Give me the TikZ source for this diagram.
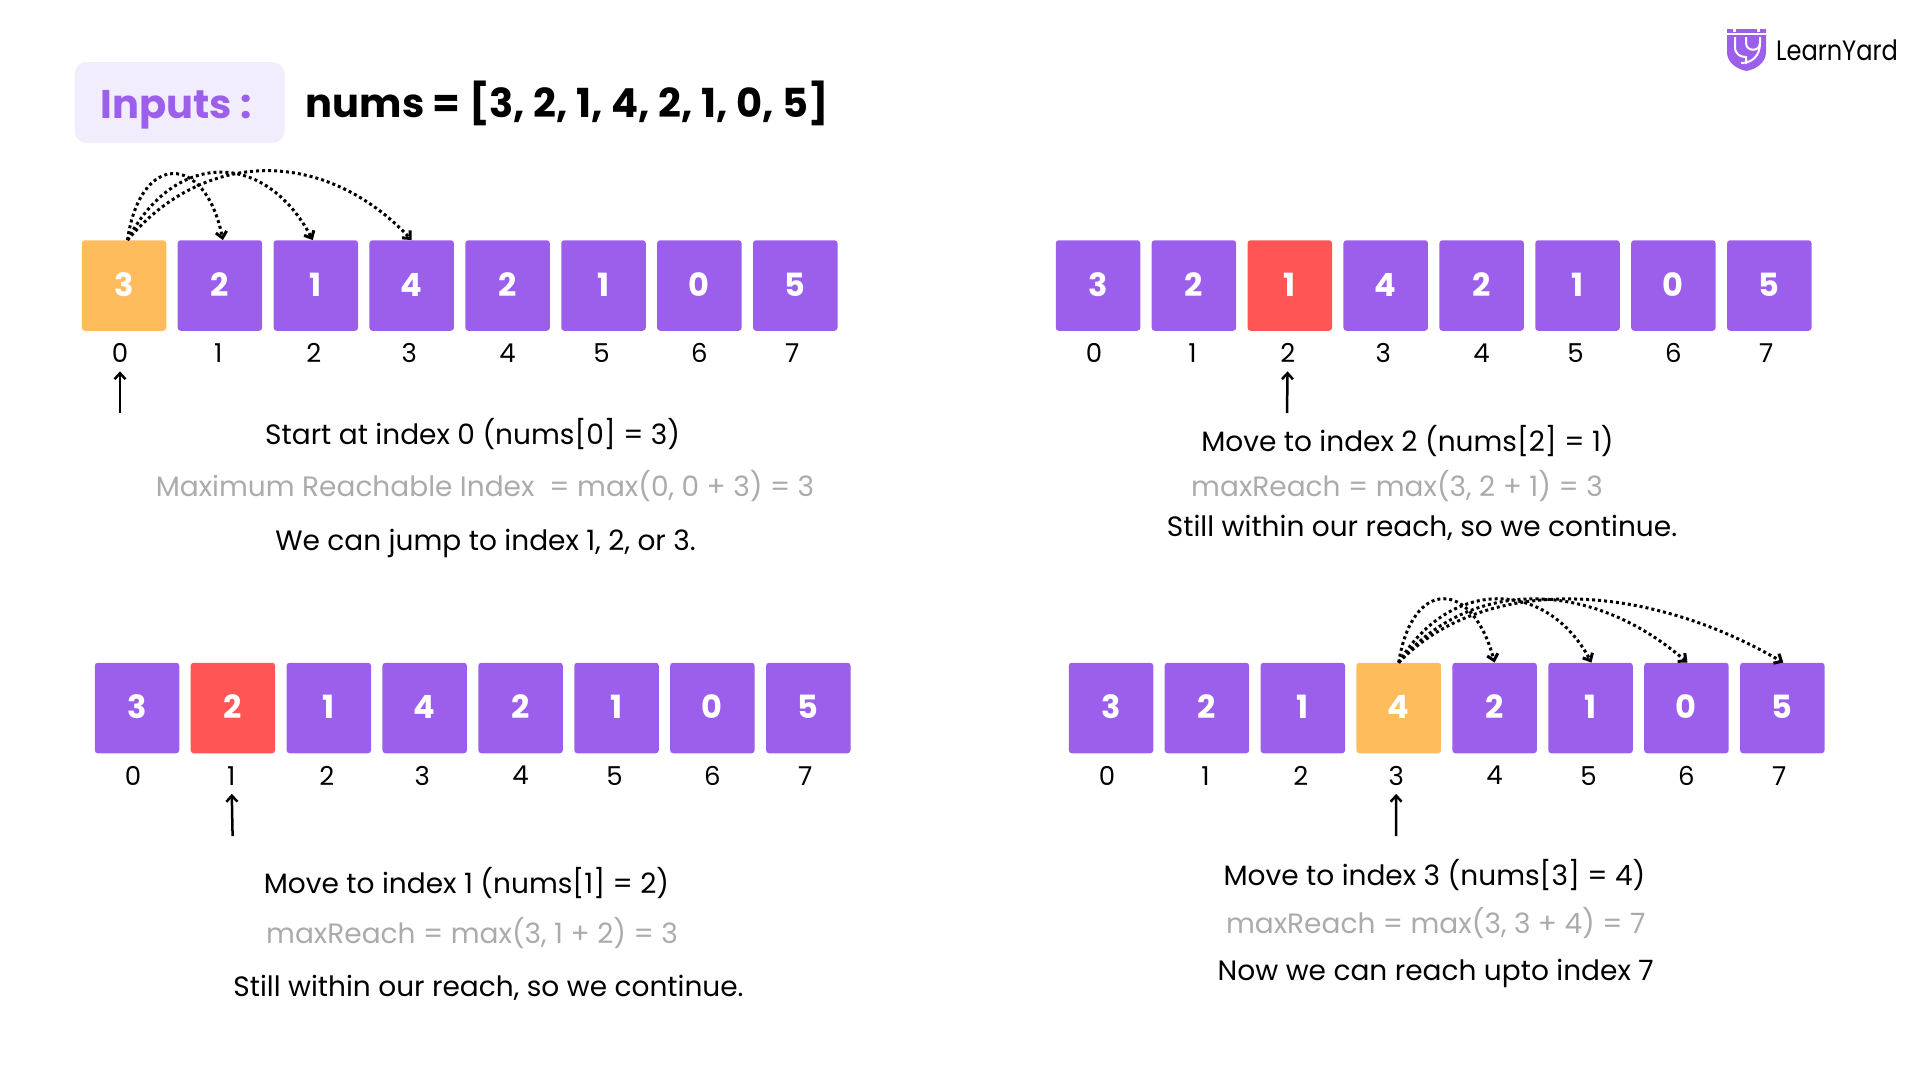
\documentclass[tikz,border=0pt]{standalone}
\usepackage{fontspec}
\setmainfont{Poppins}
\usetikzlibrary{arrows.meta, positioning}

\definecolor{purp}{HTML}{9B5FEB}
\definecolor{lilac}{HTML}{F2EDFC}
\definecolor{amber}{HTML}{FFBC5C}
\definecolor{coral}{HTML}{FF5555}
\definecolor{greytxt}{HTML}{ABABAB}

\tikzset{
  cell/.style={fill=purp, rounded corners=3pt, minimum width=84.5pt, minimum height=90.5pt, inner sep=0pt, text=white, text depth=2pt, font=\fontsize{32}{38}\selectfont\bfseries},
  idx/.style={inner sep=0pt, minimum height=30pt, font=\fontsize{26}{30}\selectfont},
  txt/.style={inner sep=0pt, text height=26pt, text depth=6pt, font=\fontsize{28}{32}\selectfont},
  pointer/.style={-{Straight Barb[length=6pt, width=11pt]}, line width=2.5pt, shorten >=3pt},
  jump/.style={-{Straight Barb[length=6pt, width=11pt]}, line width=3pt, dash pattern=on 3pt off 3pt}
}

\begin{document}
\begin{tikzpicture}[x=1pt, y=-1pt, node distance=11pt]
    \useasboundingbox (0,0) rectangle (1920,1080);

    % Header
    \node (inputs) [fill=lilac, rounded corners=12pt, minimum width=210pt, minimum height=81pt, inner sep=0pt, text=purp, text height=42pt, font=\fontsize{40}{48}\selectfont\bfseries] at (179.5,102.5) {\hspace*{-7pt}Inputs :};
    \node (nums) [inner sep=0pt, text depth=6pt, font=\fontsize{40}{50}\selectfont\bfseries, right=21pt of inputs] {nums = [3, 2, 1, 4, 2, 1, 0, 5]};

    % Logo
    \fill[purp] (1727,29) -- (1733,29) -- (1733,32) -- (1736,32) -- (1736,29) -- (1757,29) -- (1757,32) -- (1760,32) -- (1760,29) -- (1766,29) -- (1766,52) .. controls (1766,63) and (1756,69) .. (1746.5,71) .. controls (1737,69) and (1727,63) .. (1727,52) -- cycle;
    \draw[white, line width=1.5pt] (1727,34) -- (1766,34);
    \draw[white, line width=2pt] (1735,37) -- (1735,47) .. controls (1735,54) and (1740,57) .. (1746,57) -- (1746,64);
    \draw[white, line width=2pt] (1746,37) -- (1746,43) .. controls (1746,52) and (1760,52) .. (1760,43) -- (1760,37);
    \draw[white, line width=2pt] (1760,43) .. controls (1760,56) and (1752,63) .. (1741,63);
    \node (logo) [inner sep=0pt, anchor=base west, font=\fontsize{28}{32}\selectfont] at (1776,60) {\scalebox{.86}[1]{LearnYard}};

    % Draw the first row
    \node (a0) [cell, fill=amber] at (124,285.5) {3};
    \node (a1) [cell, right=of a0] {2};
    \node (a2) [cell, right=of a1] {1};
    \node (a3) [cell, right=of a2] {4};
    \node (a4) [cell, right=of a3] {2};
    \node (a5) [cell, right=of a4] {1};
    \node (a6) [cell, right=of a5] {0};
    \node (a7) [cell, right=of a6] {5};
    \node (ai0) [idx, below=7pt of a0, xshift=-4pt] {0};
    \node (ai1) [idx, below=7pt of a1, xshift=-1.5pt] {1};
    \node (ai2) [idx, below=7pt of a2, xshift=-2pt] {2};
    \node (ai3) [idx, below=7pt of a3, xshift=-2.5pt] {3};
    \node (ai4) [idx, below=7pt of a4] {4};
    \node (ai5) [idx, below=7pt of a5, xshift=-2pt] {5};
    \node (ai6) [idx, below=7pt of a6] {6};
    \node (ai7) [idx, below=7pt of a7, xshift=-3pt] {7};
    \coordinate (at) at (120,413);
    \draw [pointer] (at) -- (ai0);
    \draw [jump] ([xshift=3.5pt]a0.north) .. controls (140,152) and (205,152) .. ([xshift=3pt]a1.north);
    \draw [jump] ([xshift=3.5pt]a0.north) .. controls (175,150) and (265,150) .. ([xshift=-3pt]a2.north);
    \draw [jump] ([xshift=3.5pt]a0.north) .. controls (205,148) and (325,148) .. (a3.north);
    \node (a8) [txt] at (472.7,434.7) {Start at index 0 (nums[0] = 3)};
    \node (a9) [txt, text=greytxt] at (485,486) {Maximum Reachable Index~~= max(0, 0 + 3) = 3};
    \node (a10) [txt] at (485.5,540) {We can jump to index 1, 2, or 3.};

    % Draw the second row
    \node (b0) [cell] at (1098,285.5) {3};
    \node (b1) [cell, right=of b0] {2};
    \node (b2) [cell, fill=coral, right=of b1] {1};
    \node (b3) [cell, right=of b2] {4};
    \node (b4) [cell, right=of b3] {2};
    \node (b5) [cell, right=of b4] {1};
    \node (b6) [cell, right=of b5] {0};
    \node (b7) [cell, right=of b6] {5};
    \node (bi0) [idx, below=7pt of b0, xshift=-4pt] {0};
    \node (bi1) [idx, below=7pt of b1, xshift=-1.5pt] {1};
    \node (bi2) [idx, below=7pt of b2, xshift=-2pt] {2};
    \node (bi3) [idx, below=7pt of b3, xshift=-2.5pt] {3};
    \node (bi4) [idx, below=7pt of b4] {4};
    \node (bi5) [idx, below=7pt of b5, xshift=-2pt] {5};
    \node (bi6) [idx, below=7pt of b6] {6};
    \node (bi7) [idx, below=7pt of b7, xshift=-3pt] {7};
    \coordinate (bt) at (1287,413);
    \draw [pointer] (bt) -- (bi2);
    \node (b8) [txt] at (1407.5,441) {Move to index 2 (nums[2] = 1)};
    \node (b9) [txt, text=greytxt] at (1397,486) {maxReach = max(3, 2 + 1) = 3};
    \node (b10) [txt] at (1422,526.5) {Still within our reach, so we continue.};

    % Draw the third row
    \node (c0) [cell] at (137,708) {3};
    \node (c1) [cell, fill=coral, right=of c0] {2};
    \node (c2) [cell, right=of c1] {1};
    \node (c3) [cell, right=of c2] {4};
    \node (c4) [cell, right=of c3] {2};
    \node (c5) [cell, right=of c4] {1};
    \node (c6) [cell, right=of c5] {0};
    \node (c7) [cell, right=of c6] {5};
    \node (ci0) [idx, below=7pt of c0, xshift=-4pt] {0};
    \node (ci1) [idx, below=7pt of c1, xshift=-1.5pt] {1};
    \node (ci2) [idx, below=7pt of c2, xshift=-2pt] {2};
    \node (ci3) [idx, below=7pt of c3, xshift=-2.5pt] {3};
    \node (ci4) [idx, below=7pt of c4] {4};
    \node (ci5) [idx, below=7pt of c5, xshift=-2pt] {5};
    \node (ci6) [idx, below=7pt of c6] {6};
    \node (ci7) [idx, below=7pt of c7, xshift=-3pt] {7};
    \coordinate (ct) at (232.6,836);
    \draw [pointer] (ct) -- (ci1);
    \node (c8) [txt] at (466.5,883) {Move to index 1 (nums[1] = 2)};
    \node (c9) [txt, text=greytxt] at (472,933) {maxReach = max(3, 1 + 2) = 3};
    \node (c10) [txt] at (488.5,986) {Still within our reach, so we continue.};

    % Draw the fourth row
    \node (d0) [cell] at (1111,708) {3};
    \node (d1) [cell, right=of d0] {2};
    \node (d2) [cell, right=of d1] {1};
    \node (d3) [cell, fill=amber, right=of d2] {4};
    \node (d4) [cell, right=of d3] {2};
    \node (d5) [cell, right=of d4] {1};
    \node (d6) [cell, right=of d5] {0};
    \node (d7) [cell, right=of d6] {5};
    \node (di0) [idx, below=7pt of d0, xshift=-4pt] {0};
    \node (di1) [idx, below=7pt of d1, xshift=-1.5pt] {1};
    \node (di2) [idx, below=7pt of d2, xshift=-2pt] {2};
    \node (di3) [idx, below=7pt of d3, xshift=-2.5pt] {3};
    \node (di4) [idx, below=7pt of d4] {4};
    \node (di5) [idx, below=7pt of d5, xshift=-2pt] {5};
    \node (di6) [idx, below=7pt of d6] {6};
    \node (di7) [idx, below=7pt of d7, xshift=-3pt] {7};
    \coordinate (dt) at (1396,836);
    \draw [pointer] (dt) -- (di3);
    \draw [jump] (d3.north) .. controls (1412,578) and (1472,578) .. (d4.north);
    \draw [jump] (d3.north) .. controls (1450,578) and (1546,578) .. ([xshift=1pt]d5.north);
    \draw [jump] (d3.north) .. controls (1470,578) and (1590,578) .. ([xshift=1pt]d6.north);
    \draw [jump] (d3.north) .. controls (1480,578) and (1638,578) .. ([xshift=1pt]d7.north);
    \node (d8) [txt] at (1434.5,875.5) {Move to index 3 (nums[3] = 4)};
    \node (d9) [txt, text=greytxt] at (1435.7,923) {maxReach = max(3, 3 + 4) = 7};
    \node (d10) [txt] at (1435.7,970) {Now we can reach upto index 7};
\end{tikzpicture}
\end{document}
